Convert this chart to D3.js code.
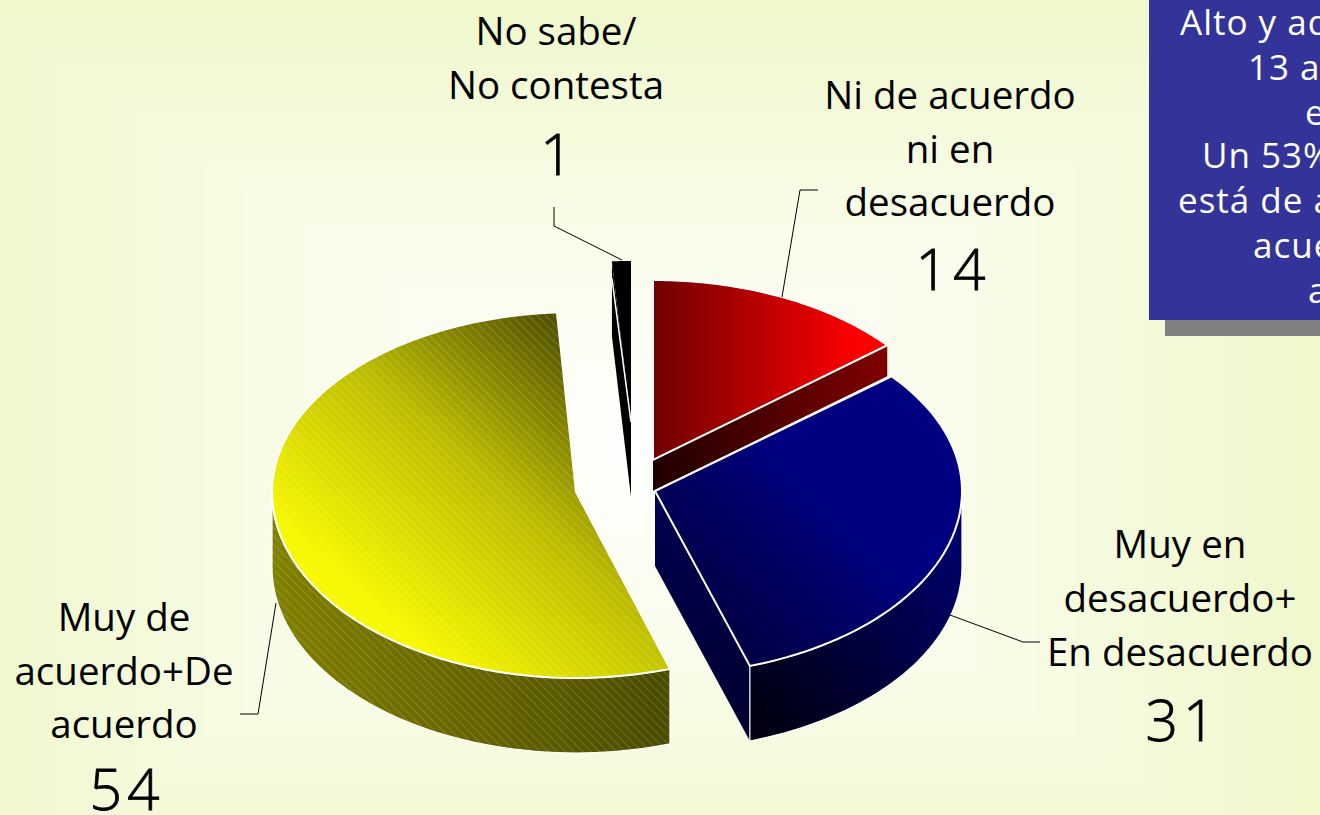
<!DOCTYPE html>
<html>
<head>
<meta charset="utf-8">
<style>
html, body { margin: 0; padding: 0; overflow: hidden; background: #f0f8cc; }
svg { display: block; }
</style>
<script src="https://cdn.jsdelivr.net/npm/d3@7"></script>
</head>
<body>
<div id="vis"></div>
<script>
// values
const categories = ["Ni de acuerdo ni en desacuerdo", "Muy en desacuerdo+ En desacuerdo", "Muy de acuerdo+De acuerdo", "No sabe/ No contesta"];
const values = [14, 31, 54, 1];
const labelLines = [["Ni de acuerdo", "ni en", "desacuerdo"], ["Muy en", "desacuerdo+", "En desacuerdo"], ["Muy de", "acuerdo+De", "acuerdo"], ["No sabe/", "No contesta"]];
const noteLines = ["Alto y aq", "13 a", "e", "Un 53%", "está de a", "acue", "a"];

const width = 1320;
const height = 815;

//layout of the exploded slices
const centres = [[653, 460], [655, 491], [576, 492], [631, 422]];
const radiusX = [304, 307, 304, 304];
const radiusBack = [180, 180, 180, 161];
const radiusFront = [184, 184, 186, 184];
const depths = [31, 75, 75, 75];

const labelX = [950, 1180, 124, 556];
const labelY = [[109, 163, 216], [558, 612, 666], [631, 685, 738], [45, 99]];
const valueY = [290, 741, 810, 175];
const leaders = [
    [[818, 190], [800, 190], [782, 297]],
    [[950, 615], [1023, 642], [1040, 642]],
    [[276, 603], [258, 714], [240, 714]],
    [[554, 207], [554, 226], [622, 260]]
];

let svg = d3.select("#vis")
    .append("svg")
    .attr("width", width)
    .attr("height", height);

let defs = svg.append("defs");

const addGradient = (id, x1, y1, x2, y2, stops) => {
    let g = defs.append("linearGradient")
        .attr("id", id)
        .attr("gradientUnits", "userSpaceOnUse")
        .attr("x1", x1).attr("y1", y1).attr("x2", x2).attr("y2", y2);
    stops.forEach(s => g.append("stop").attr("offset", s[0]).attr("stop-color", s[1]));
};

addGradient("redTop", 653, 0, 860, 0, [[0, "#700000"], [1, "#ff0000"]]);
addGradient("redSide", 653, 0, 887, 0, [[0, "#200000"], [1, "#800000"]]);
addGradient("blueTop", 690, 640, 830, 500, [[0, "#00003a"], [1, "#000080"]]);
addGradient("blueCut", 655, 500, 750, 740, [[0, "#000050"], [1, "#000030"]]);
addGradient("blueSide", 760, 730, 960, 560, [[0, "#000010"], [1, "#000068"]]);
addGradient("yellowTop", 330, 570, 560, 310, [[0, "#f8f800"], [0.5, "#bcbc00"], [1, "#4a4a00"]]);
addGradient("yellowSide", 272, 0, 672, 0, [[0, "#808000"], [1, "#4a4a00"]]);

//fine diagonal hatch on the yellow slice
let hatch = defs.append("pattern")
    .attr("id", "hatch")
    .attr("width", 6).attr("height", 6)
    .attr("patternUnits", "userSpaceOnUse")
    .attr("patternTransform", "rotate(-45)");
hatch.append("rect").attr("width", 1).attr("height", 6).attr("fill", "#ffffff").attr("opacity", 0.16);

//background, stepped rectangular gradient
const bgColor = d3.scaleLinear().domain([0, 0.55, 1]).range(["#ffffff", "#f8fce6", "#f0f8cc"]);
const bgSteps = d3.range(36, 0, -1).map(i => i / 36);
svg.selectAll(".bg")
    .data(bgSteps)
    .enter()
    .append("rect")
    .attr("class", "bg")
    .attr("x", d => 640 - 680 * d)
    .attr("y", d => 450 - 450 * d)
    .attr("width", d => 1360 * d)
    .attr("height", d => 900 * d)
    .attr("fill", d => bgColor(d));

//the note box, it runs off the right side of the page
svg.append("rect").attr("x", 1165).attr("y", -10).attr("width", 180).attr("height", 346).attr("fill", "#808080");
svg.append("rect").attr("x", 1149).attr("y", -10).attr("width", 190).attr("height", 330).attr("fill", "#333399");

const noteX = [1180, 1248, 1305, 1202, 1178, 1253, 1308];
const noteY = [35, 80, 125, 168, 213, 258, 303];
svg.selectAll(".note")
    .data(noteLines)
    .enter()
    .append("text")
    .attr("class", "note")
    .attr("x", (d, i) => noteX[i])
    .attr("y", (d, i) => noteY[i])
    .attr("fill", "#ffffff")
    .style("font-family", "'Open Sans', sans-serif")
    .style("font-size", "35px")
    .style("letter-spacing", "1px")
    .text(d => d);

//pie angles, first slice starts at 12 o'clock and goes clockwise
const slices = d3.pie().sort(null)(values);

const project = (i, a, dz) => {
    const c = Math.cos(a);
    const r = c >= 0 ? radiusBack[i] : radiusFront[i];
    return [centres[i][0] + radiusX[i] * Math.sin(a), centres[i][1] - r * c + dz];
};
const rimPoints = (i, a0, a1, dz) => d3.range(0, 61).map(k => project(i, a0 + (a1 - a0) * k / 60, dz));
const line = d3.line();

const drawSlice = (i, topFill, sideFill, cutFill, hatched) => {
    const s = slices[i];
    const g = svg.append("g").attr("class", "slice");
    const c = centres[i];
    const depth = depths[i];

    //cut face on the end angle when it looks at the viewer
    if (cutFill) {
        const e = project(i, s.endAngle, 0);
        const cut = [c, e, [e[0], e[1] + depth], [c[0], c[1] + depth]];
        g.append("path").attr("d", line(cut) + "Z").attr("fill", cutFill);
    }
    //outer wall, only the front half of the rim is seen
    const a0 = Math.max(s.startAngle, Math.PI / 2);
    const a1 = Math.min(s.endAngle, Math.PI * 1.5);
    if (a1 > a0) {
        const wall = rimPoints(i, a0, a1, 0).concat(rimPoints(i, a1, a0, depth));
        g.append("path").attr("d", line(wall) + "Z").attr("fill", sideFill).attr("stroke", "#ffffff").attr("stroke-width", 1.2);
        if (hatched) g.append("path").attr("d", line(wall) + "Z").attr("fill", "url(#hatch)");
    }
    //top
    const top = [c].concat(rimPoints(i, s.startAngle, s.endAngle, 0));
    g.append("path").attr("d", line(top) + "Z").attr("fill", topFill).attr("stroke", "#ffffff").attr("stroke-width", i == 3 ? 0 : 2);
    if (hatched) g.append("path").attr("d", line(top) + "Z").attr("fill", "url(#hatch)");
};

drawSlice(3, "#000000", "#000000", null, false);
// left cut face of the small slice
(function () {
    const s = slices[3], c = centres[3];
    const e = project(3, s.startAngle, 0);
    const cut = [c, e, [e[0], e[1] + depths[3]], [c[0], c[1] + depths[3]]];
    svg.append("path").attr("d", line(cut) + "Z").attr("fill", "#000000");
    svg.append("path").attr("d", line([[e[0], e[1] + 17], c])).attr("stroke", "#ffffff").attr("stroke-width", 1.5).attr("fill", "none");
})();
drawSlice(0, "url(#redTop)", "url(#redSide)", "url(#redSide)", false);
drawSlice(2, "url(#yellowTop)", "url(#yellowSide)", null, true);
drawSlice(1, "url(#blueTop)", "url(#blueSide)", "url(#blueCut)", false);

//leader lines
svg.selectAll(".leader")
    .data(leaders)
    .enter()
    .append("path")
    .attr("class", "leader")
    .attr("d", d => line(d))
    .attr("fill", "none")
    .attr("stroke", "#000000")
    .attr("stroke-width", 1);

//labels
labelLines.forEach((lines, i) => {
    svg.selectAll(".label" + i)
        .data(lines)
        .enter()
        .append("text")
        .attr("class", "label" + i)
        .attr("x", labelX[i])
        .attr("y", (d, k) => labelY[i][k])
        .attr("text-anchor", "middle")
        .attr("fill", "#000000")
        .style("font-family", "'Open Sans', sans-serif")
        .style("font-size", "38.5px")
        .text(d => d);
    svg.append("text")
        .attr("x", labelX[i] + 3)
        .attr("y", valueY[i])
        .attr("text-anchor", "middle")
        .attr("fill", "#000000")
        .attr("stroke", "#000000")
        .attr("stroke-width", 0.8)
        .style("font-family", "'Open Sans', sans-serif")
        .style("font-size", "57px")
        .style("font-weight", 300)
        .style("letter-spacing", "5px")
        .text(values[i]);
});
</script>
</body>
</html>
